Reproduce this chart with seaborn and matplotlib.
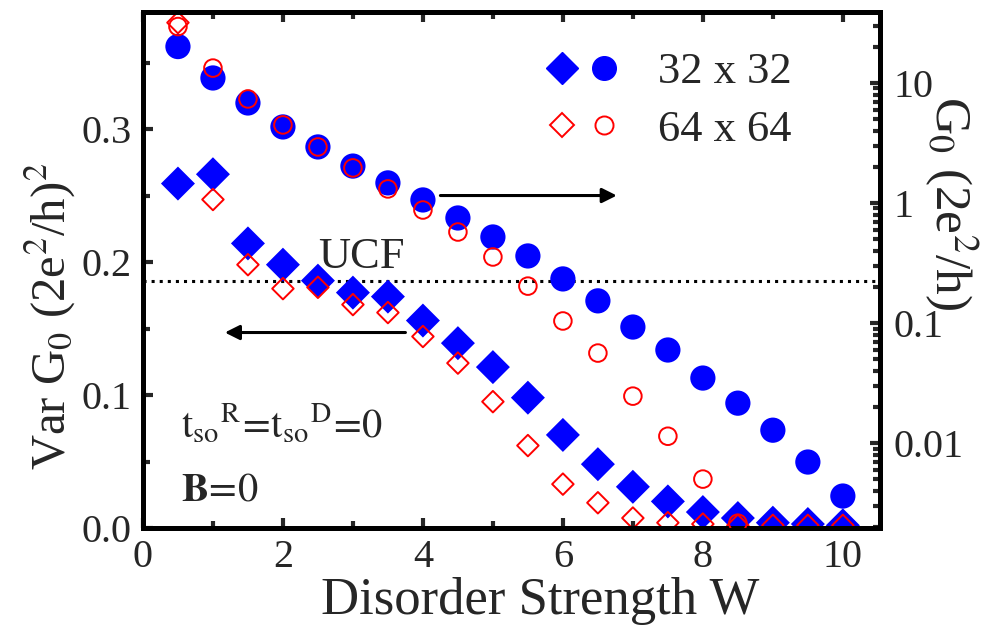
import numpy as np
import pandas as pd
import matplotlib
matplotlib.use('Agg')
import matplotlib.pyplot as plt
import seaborn as sns
from matplotlib.lines import Line2D
from matplotlib.legend_handler import HandlerTuple
from matplotlib.ticker import MultipleLocator, LogLocator, FuncFormatter, NullFormatter

# ---- data ----
W = [0.5, 1.0, 1.5, 2.0, 2.5, 3.0, 3.5, 4.0, 4.5, 5.0,
     5.5, 6.0, 6.5, 7.0, 7.5, 8.0, 8.5, 9.0, 9.5, 10.0]

# Var G0 (left axis)
var_32 = [0.259, 0.266, 0.214, 0.198, 0.186, 0.177, 0.174, 0.156, 0.139, 0.121,
          0.098, 0.070, 0.048, 0.031, 0.020, 0.012, 0.0075, 0.004, 0.003, 0.002]
var_64 = [0.380, 0.247, 0.198, 0.180, 0.181, 0.168, 0.162, 0.144, 0.124, 0.095,
          0.062, 0.033, 0.019, 0.0075, 0.004, 0.003, 0.002, 0.002, 0.002, 0.002]

# G0 (right axis, log)
g_32 = [20.1, 11.0, 6.81, 4.30, 2.93, 2.03, 1.47, 1.06, 0.750, 0.521,
        0.362, 0.233, 0.153, 0.0926, 0.0596, 0.0348, 0.0215, 0.0128, 0.00695, 0.00362]
g_64 = [29.5, 13.3, 7.36, 4.47, 2.93, 1.96, 1.31, 0.874, 0.573, 0.355,
        0.203, 0.104, 0.0562, 0.0246, 0.0114, 0.00501, 0.00215, np.nan, np.nan, np.nan]

ucf_level = 0.186
series_labels = ['32 x 32', '64 x 64']

df = pd.DataFrame({'W': W, 'var_32': var_32, 'var_64': var_64,
                   'g_32': g_32, 'g_64': g_64})

sns.set_theme(style='ticks')
plt.rcParams['font.family'] = ['Liberation Serif', 'DejaVu Serif']
plt.rcParams['mathtext.fontset'] = 'stix'

BLUE = '#0000FF'
RED = '#FF0000'

fig = plt.figure(figsize=(10.06, 6.28), dpi=100)
ax = fig.add_axes([0.1421, 0.1592, 0.7326, 0.8217])
ax2 = ax.twinx()

# left axis: variance (diamonds)
sns.scatterplot(data=df, x='W', y='var_32', marker='D', s=300, color=BLUE,
                edgecolor='none', linewidth=0, ax=ax, zorder=3)
sns.scatterplot(data=df, x='W', y='var_64', marker='D', s=120, color=RED,
                facecolor='none', edgecolor=RED, linewidth=1.4, ax=ax, zorder=4)

# right axis: conductance (circles)
sns.scatterplot(data=df, x='W', y='g_32', marker='o', s=330, color=BLUE,
                edgecolor='none', linewidth=0, ax=ax2, zorder=3)
sns.scatterplot(data=df, x='W', y='g_64', marker='o', s=160, color=RED,
                facecolor='none', edgecolor=RED, linewidth=1.4, ax=ax2, zorder=4)

ax.axhline(ucf_level, color='black', linestyle=':', linewidth=2.2, zorder=2)
ax.text(2.5, ucf_level + 0.003, 'UCF', fontsize=32, va='bottom', ha='left')

# arrows pointing to the axis each set belongs to
ax.annotate('', xy=(6.81, 0.250), xytext=(4.21, 0.250),
            arrowprops=dict(arrowstyle='-|>', color='black', lw=2.2, mutation_scale=22))
ax.annotate('', xy=(1.13, 0.147), xytext=(3.79, 0.147),
            arrowprops=dict(arrowstyle='-|>', color='black', lw=2.2, mutation_scale=22))

ax.text(0.55, 0.077, r'$\mathrm{t_{so}{}^{R}\!=\!t_{so}{}^{D}\!=\!0}$', fontsize=29,
        va='center', ha='left')
ax.text(0.55, 0.028, r'$\mathbf{B}\mathrm{\!=\!0}$', fontsize=29, va='center', ha='left')

# axes limits / ticks
ax.set_xlim(0, 10.53)
ax.set_ylim(0, 0.388)
ax2.set_yscale('log')
ax2.set_ylim(0.00196, 39)

ax.xaxis.set_major_locator(MultipleLocator(2))
ax.xaxis.set_minor_locator(MultipleLocator(1))
ax.yaxis.set_major_locator(MultipleLocator(0.1))
ax.yaxis.set_minor_locator(MultipleLocator(0.05))
ax.yaxis.set_major_formatter(FuncFormatter(lambda v, p: f'{v:.1f}'))

ax2.yaxis.set_major_locator(LogLocator(base=10, numticks=10))
ax2.yaxis.set_minor_locator(LogLocator(base=10, subs=np.arange(2, 10), numticks=10))
ax2.yaxis.set_major_formatter(FuncFormatter(lambda v, p: f'{v:g}'))
ax2.yaxis.set_minor_formatter(NullFormatter())

ax.tick_params(axis='both', which='major', direction='in', length=7, width=3,
               labelsize=29, top=True, right=False, pad=8)
ax.tick_params(axis='both', which='minor', direction='in', length=5, width=3,
               top=True, right=False)
ax2.tick_params(axis='y', which='major', direction='in', length=7, width=3,
                labelsize=29, pad=10)
ax2.tick_params(axis='y', which='minor', direction='in', length=5, width=3)

for a in (ax, ax2):
    for sp in a.spines.values():
        sp.set_linewidth(3.6)
        sp.set_color('black')

ax.set_xlabel('Disorder Strength W', fontsize=38)
ax.xaxis.set_label_coords(0.539, -0.094)
ax.set_ylabel(r'Var G$_0$ (2e$^2$/h)$^2$', fontsize=35)
ax.yaxis.set_label_coords(-0.088, 0.41)
ax2.set_ylabel(r'G$_0$ (2e$^2$/h)', fontsize=37, rotation=270, va='center')
ax2.yaxis.set_label_coords(1.097, 0.63)

# legend: diamond + circle per lattice size
h32 = (Line2D([], [], marker='D', color=BLUE, linestyle='', markersize=16),
       Line2D([], [], marker='o', color=BLUE, linestyle='', markersize=17))
h64 = (Line2D([], [], marker='D', color=RED, mfc='none', mew=1.4, linestyle='', markersize=12),
       Line2D([], [], marker='o', color=RED, mfc='none', mew=1.4, linestyle='', markersize=13))
ax2.legend([h32, h64], series_labels, handler_map={tuple: HandlerTuple(ndivide=None, pad=0.3)},
           loc='upper right', bbox_to_anchor=(0.935, 1.0), frameon=False, fontsize=32,
           handlelength=1.6, handletextpad=0.9, labelspacing=0.4)

fig.savefig('out.png', dpi=100)
